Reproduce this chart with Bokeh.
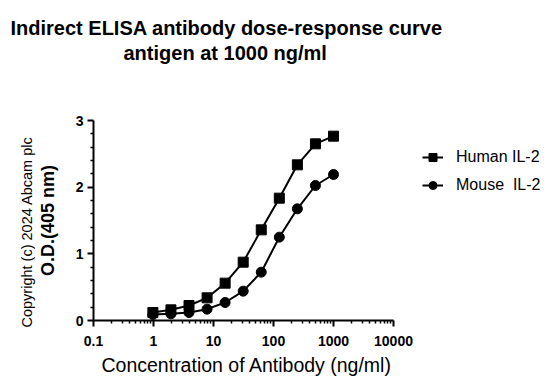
from bokeh.plotting import figure
from bokeh.models import (Range1d, FixedTicker, Title, Legend, LegendItem,
                          BasicTickFormatter, LinearAxis)
from bokeh.embed import file_html
from bokeh.resources import INLINE

# ---- data ----
concentration = [0.9765625, 1.953125, 3.90625, 7.8125, 15.625, 31.25, 62.5, 125, 250, 500, 1000]
human_il2 = [0.12, 0.16, 0.225, 0.34, 0.56, 0.875, 1.36, 1.835, 2.335, 2.65, 2.765]
mouse_il2 = [0.09, 0.10, 0.12, 0.17, 0.27, 0.44, 0.725, 1.25, 1.675, 2.025, 2.19]
series_labels = ["Human IL-2", "Mouse  IL-2"]
x_ticks = [0.1, 1, 10, 100, 1000, 10000]
x_tick_labels = ["0.1", "1", "10", "100", "1000", "10000"]
y_ticks = [0, 1, 2, 3]
y_minor = [0.2, 0.4, 0.6, 0.8, 1.2, 1.4, 1.6, 1.8, 2.2, 2.4, 2.6, 2.8]
x_minor = [m * 10 ** k for k in range(-1, 4) for m in range(2, 10)]

FONT = "Liberation Sans"

p = figure(frame_width=300, frame_height=200, x_axis_type="log",
           x_range=Range1d(0.1, 10000), y_range=Range1d(0, 3),
           output_backend="svg", toolbar_location=None, title=None,
           min_border_left=93, min_border_top=120, min_border_right=163,
           min_border_bottom=70)
p.outline_line_color = None
p.xgrid.visible = False
p.ygrid.visible = False
p.background_fill_color = "white"
p.border_fill_color = "white"

# lines + markers
l1 = p.line(concentration, human_il2, line_color="black", line_width=2)
s1 = p.scatter(concentration, human_il2, marker="square", size=10,
               fill_color="black", line_color="black")
l2 = p.line(concentration, mouse_il2, line_color="black", line_width=2)
s2 = p.scatter(concentration, mouse_il2, marker="circle", size=10,
               fill_color="black", line_color="black")

# axes
for ax in (p.xaxis[0], p.yaxis[0]):
    ax.axis_line_width = 2
    ax.axis_line_color = "black"
    ax.major_tick_line_width = 2
    ax.major_tick_line_color = "black"
    ax.minor_tick_line_width = 1.5
    ax.minor_tick_line_color = "black"
    ax.major_tick_in = 0
    ax.major_tick_out = 6
    ax.minor_tick_in = 0
    ax.minor_tick_out = 3
    ax.major_label_text_font = FONT
    ax.major_label_text_font_style = "bold"
    ax.major_label_text_font_size = "14px"
    ax.major_label_text_color = "black"
    ax.axis_label_text_font = FONT
    ax.axis_label_text_color = "black"

xa = p.xaxis[0]
xa.ticker = FixedTicker(ticks=x_ticks, minor_ticks=x_minor)
xa.formatter = BasicTickFormatter(use_scientific=False)
xa.major_label_overrides = dict(zip(x_ticks, x_tick_labels))
xa.major_label_standoff = 9

ya = p.yaxis[0]
ya.ticker = FixedTicker(ticks=y_ticks, minor_ticks=y_minor)
ya.major_label_standoff = 4
ya.axis_label = "O.D.(405 nm)"
ya.axis_label_text_font_size = "18px"
ya.axis_label_text_font_style = "bold"
ya.axis_label_standoff = 15

# copyright on the far left
cp = Title(text="Copyright (c) 2024 Abcam plc", align="left", offset=-7,
           text_font=FONT, text_font_size="14.5px", text_font_style="normal",
           text_color="black", standoff=0)
p.add_layout(cp, "left")

# x axis label as a title below (allows a horizontal offset)
xl = Title(text="Concentration of Antibody (ng/ml)", align="left", offset=8,
           text_font=FONT, text_font_size="19.5px", text_font_style="normal",
           text_color="black", standoff=6)
p.add_layout(xl, "below")

# empty gap between plot area and the two title lines (invisible axis)
gap = LinearAxis(ticker=FixedTicker(ticks=[1]), major_tick_out=56,
                 major_tick_in=0, minor_tick_out=0, minor_tick_in=0,
                 major_label_standoff=0, axis_line_color=None,
                 major_tick_line_color=None, minor_tick_line_color=None,
                 major_label_overrides={1: ""},
                 major_label_text_font_size="1px")
p.add_layout(gap, "above")

t2 = Title(text="antigen at 1000 ng/ml", align="left", offset=30,
           text_font=FONT, text_font_size="20px", text_font_style="bold",
           text_color="black", standoff=2)
t1 = Title(text="Indirect ELISA antibody dose-response curve", align="left",
           offset=-83, text_font=FONT, text_font_size="20px",
           text_font_style="bold", text_color="black", standoff=0)
p.add_layout(t2, "above")
p.add_layout(t1, "above")

legend = Legend(items=[LegendItem(label=series_labels[0], renderers=[l1, s1]),
                       LegendItem(label=series_labels[1], renderers=[l2, s2])],
                location=(29, 125), border_line_color=None,
                background_fill_alpha=0, label_text_font=FONT,
                label_text_font_size="16px", label_text_color="black",
                glyph_width=21, glyph_height=20, label_standoff=13,
                spacing=8, padding=0, margin=0)
p.add_layout(legend, "right")

open("out.html", "w").write(file_html(p, INLINE))
